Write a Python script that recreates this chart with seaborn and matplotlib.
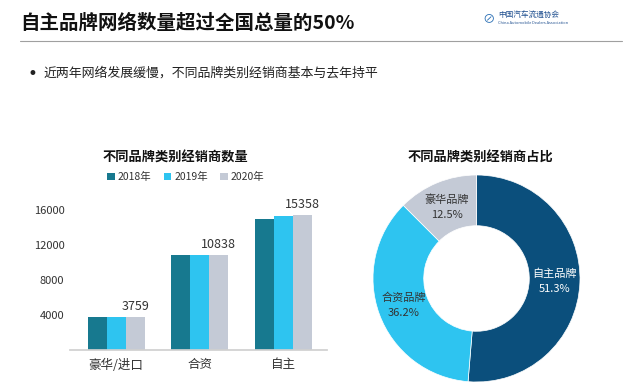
import pandas as pd
import numpy as np
import matplotlib
matplotlib.use("Agg")
import matplotlib.pyplot as plt
import seaborn as sns

# data
categories = ["豪华/进口", "合资", "自主"]
years = ["2018年", "2019年", "2020年"]
dealers_2018 = [3750, 10838, 15000]
dealers_2019 = [3759, 10838, 15300]
dealers_2020 = [3759, 10838, 15358]
yticks = [4000, 8000, 12000, 16000]

share_labels = ["自主品牌", "合资品牌", "豪华品牌"]
share_values = [51.3, 36.2, 12.5]

bar_colors = ["#17798f", "#2ec4f0", "#c4cad6"]
pie_colors = ["#0b4f7c", "#2ec4f0", "#c4cad6"]

sns.set_theme(style="white")
plt.rcParams['font.family'] = ['Noto Sans CJK SC', 'DejaVu Sans']

df = pd.DataFrame({
    "类别": categories * 3,
    "年份": [y for y in years for _ in categories],
    "数量": dealers_2018 + dealers_2019 + dealers_2020,
})

fig = plt.figure(figsize=(6.4, 3.92), dpi=100)
fig.patch.set_facecolor("white")

# header
fig.text(20 / 640, 1 - 23 / 392, "自主品牌网络数量超过全国总量的50%", fontsize=14,
         fontweight="bold", color="#111111", va="center", ha="left")
fig.add_artist(plt.Line2D([20 / 640, 622 / 640], [1 - 41 / 392, 1 - 41 / 392],
                          color="#a0a0a0", lw=0.8))
fig.text(498 / 640, 1 - 16 / 392, "中国汽车流通协会", fontsize=5.5, color="#1f4f8f",
         va="center", ha="left")
fig.text(498 / 640, 1 - 23 / 392, "China Automobile Dealers Association", fontsize=2.8,
         color="#1f4f8f", va="center", ha="left")
fig.text(482 / 640, 1 - 19 / 392, "⊘", fontsize=9, color="#2a6fb5", va="center",
         ha="left")
fig.text(27 / 640, 1 - 74 / 392, "•", fontsize=12, color="#222222", va="center",
         ha="left", family="DejaVu Sans")
fig.text(44 / 640, 1 - 73 / 392, "近两年网络发展缓慢，不同品牌类别经销商基本与去年持平",
         fontsize=9.3, color="#222222", va="center", ha="left")

# grouped bar chart
ax = fig.add_axes([70 / 640, 42 / 392, 257 / 640, 149 / 392])
sns.barplot(data=df, x="类别", y="数量", hue="年份", palette=bar_colors,
            width=0.68, gap=0, saturation=1, linewidth=0, ax=ax, legend=True)
ax.set_ylim(0, 17000)
ax.set_xlim(-0.55, 2.52)
ax.set_yticks(yticks)
ax.set_yticklabels([str(v) for v in yticks], fontsize=8, color="#333333")
ax.tick_params(axis="x", labelsize=9, colors="#333333", pad=6, length=0)
ax.tick_params(axis="y", length=0, pad=4)
ax.set_xlabel("")
ax.set_ylabel("")
for s in ["top", "right", "left"]:
    ax.spines[s].set_visible(False)
ax.spines["bottom"].set_color("#d0d0d0")
ax.patch.set_alpha(0)

ax.bar_label(ax.containers[2], labels=[str(v) for v in dealers_2020],
             fontsize=9, color="#333333", padding=3)

handles, labels = ax.get_legend_handles_labels()
ax.get_legend().remove()
fig.legend(handles, labels, loc="center left", bbox_to_anchor=(98 / 640, 1 - 177 / 392),
           ncol=3, frameon=False, fontsize=7.5, handlelength=0.7, handleheight=0.7,
           handletextpad=0.3, columnspacing=1.2, labelcolor="#333333")
fig.text(175 / 640, 1 - 158 / 392, "不同品牌类别经销商数量", fontsize=9.5,
         fontweight="bold", ha="center", va="center", color="#111111")

# donut chart
ax2 = fig.add_axes([373 / 640, 10 / 392, 207 / 640, 207 / 392])
wedges, _ = ax2.pie(share_values, colors=pie_colors, startangle=90, counterclock=False,
                    radius=1, wedgeprops=dict(width=0.49, edgecolor="white", linewidth=0.5))
ax2.set_xlim(-1, 1)
ax2.set_ylim(-1, 1)
ax2.set_aspect("equal")
ax2.axis("off")
text_colors = ["white", "#333333", "#333333"]
for w, lab, val, tc in zip(wedges, share_labels, share_values, text_colors):
    ang = np.deg2rad((w.theta1 + w.theta2) / 2)
    x, y = 0.75 * np.cos(ang), 0.75 * np.sin(ang)
    ax2.text(x, y, f"{lab}\n{val}%", ha="center", va="center", fontsize=8,
             color=tc, linespacing=1.6)
fig.text(480 / 640, 1 - 158 / 392, "不同品牌类别经销商占比", fontsize=9.5,
         fontweight="bold", ha="center", va="center", color="#111111")

fig.savefig("out.png", dpi=100, facecolor="white")
